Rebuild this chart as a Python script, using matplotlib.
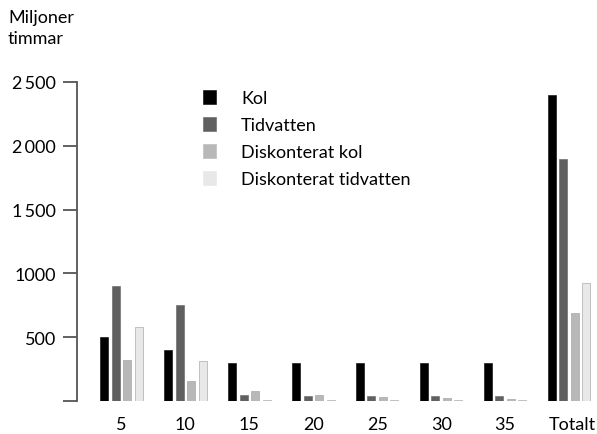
import matplotlib
matplotlib.use("Agg")
import matplotlib.pyplot as plt
import matplotlib.transforms as mtransforms
import numpy as np

categories = ["5", "10", "15", "20", "25", "30", "35", "Totalt"]
kol = [500, 400, 295, 295, 295, 295, 295, 2400]
tidvatten = [900, 750, 50, 40, 40, 40, 40, 1900]
disk_kol = [320, 160, 80, 50, 35, 22, 18, 690]
disk_tid = [580, 310, 10, 8, 6, 5, 4, 925]
series_names = ["Kol", "Tidvatten", "Diskonterat kol", "Diskonterat tidvatten"]
colors = ["#000000", "#606060", "#b8b8b8", "#e8e8e8"]
yticks = [500, 1000, 1500, 2000, 2500]
ytick_labels = ["500", "1000", "1\u2009500", "2\u2009000", "2\u2009500"]

plt.rcParams['font.family'] = ['Lato', 'DejaVu Sans']
FS = 13

fig = plt.figure(figsize=(5.97, 4.35), dpi=100)
W, H = 597, 435
ax = fig.add_axes([77 / W, 1 - 402 / H, 520 / W, (402 - 83) / H])

x = np.arange(len(categories))
width = 0.125
step = 0.18
for i, (vals, name, c) in enumerate(zip([kol, tidvatten, disk_kol, disk_tid], series_names, colors)):
    ax.bar(x + (i - 1.5) * step, vals, width=width, color=c, label=name,
           edgecolor='#9a9a9a' if i >= 2 else c, linewidth=0.4)

ax.set_xlim(-0.695, 7.4375)
ax.set_ylim(0, 2500)
ax.set_xticks(x)
ax.set_xticklabels(categories, fontsize=FS)
ax.tick_params(axis='x', length=0, pad=11)
ax.set_yticks([0] + yticks)
ax.set_yticklabels([""] + ytick_labels, fontsize=FS)
ax.tick_params(axis='y', length=10, width=1.3, color='#555555', pad=5)
for s in ['top', 'right', 'bottom']:
    ax.spines[s].set_visible(False)
ax.spines['left'].set_color('#555555')
ax.spines['left'].set_linewidth(1.3)

lab = ax.get_xticklabels()[-1]
lab.set_transform(lab.get_transform() + mtransforms.ScaledTranslation(3 / 100, 0, fig.dpi_scale_trans))

fig.text(8 / W, 1 - 10 / H, "Miljoner\ntimmar", fontsize=FS, va='top', ha='left', linespacing=1.4)

leg = ax.legend(loc='upper left', bbox_to_anchor=(203 / W, 1 - 91 / H), bbox_transform=fig.transFigure,
                frameon=False, fontsize=FS, handlelength=0.7, handleheight=0.8,
                handletextpad=1.4, labelspacing=0.6, borderaxespad=0, borderpad=0)
for h in leg.legend_handles:
    h.set_edgecolor(h.get_facecolor())

fig.savefig("out.png", dpi=100)
